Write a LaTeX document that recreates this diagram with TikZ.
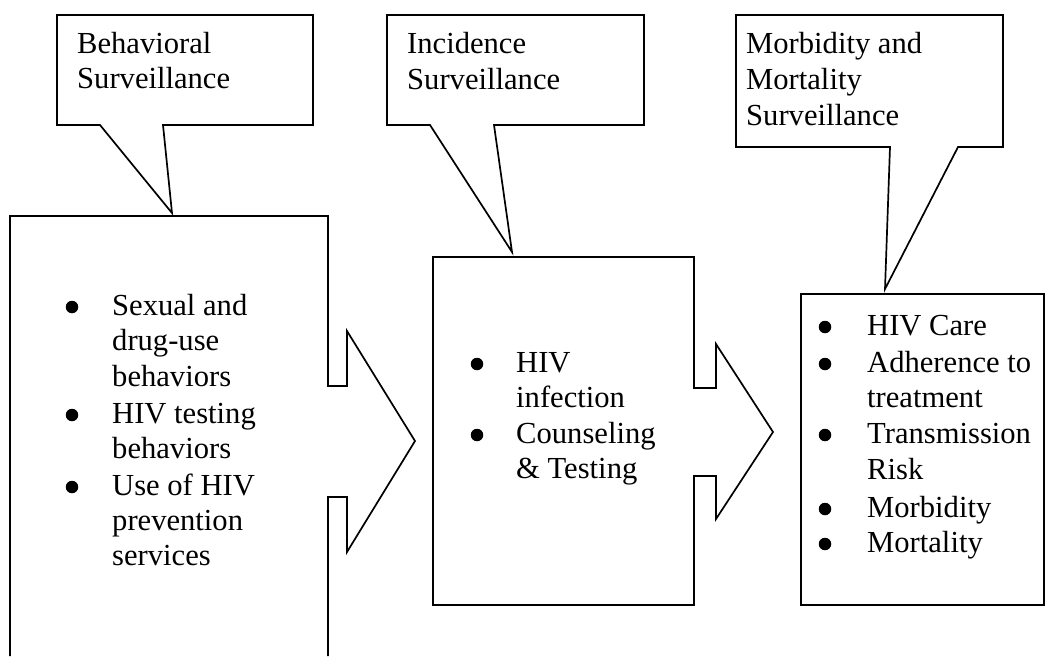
\documentclass[tikz,border=0pt]{standalone}
\usepackage{fontspec}
\setmainfont{Liberation Serif}
\begin{document}
\begin{tikzpicture}[x=1pt,y=-1pt,
  shp/.style={draw=black, line width=1.7pt, line join=miter},
  txt/.style={font=\fontsize{30.6}{35.5}\selectfont, inner sep=0pt, anchor=base west},
  bul/.style={circle, fill=black, inner sep=0pt, minimum size=12.5pt}]
\useasboundingbox (0,0) rectangle (1046,656);

% callouts
\draw[shp] (57,15) -- (313,15) -- (313,125) -- (163,125) -- (172,213) -- (100,125) -- (57,125) -- cycle;
\draw[shp] (387,15) -- (644,15) -- (644,125) -- (494,125) -- (512,252) -- (430,125) -- (387,125) -- cycle;
\draw[shp] (736,15) -- (1003,15) -- (1003,147) -- (958,147) -- (885,289) -- (890,147) -- (736,147) -- cycle;

% boxes with arrows
\draw[shp] (10,656) -- (10,216) -- (328,216) -- (328,386) -- (347,386) -- (347,331) -- (415,441) -- (347,552) -- (347,497) -- (328,497) -- (328,656);
\draw[shp] (433,257) -- (694,257) -- (694,388) -- (716,388) -- (716,344) -- (773,432) -- (716,519) -- (716,476) -- (694,476) -- (694,605) -- (433,605) -- cycle;
\draw[shp] (801,294) rectangle (1044,605);

% callout texts
\node[txt] (c1a) at (77,53) {Behavioral};
\node[txt] (c1b) at (77,88) {Surveillance};
\node[txt] (c2a) at (407,53) {Incidence};
\node[txt] (c2b) at (407,89) {Surveillance};
\node[txt] (c3a) at (746,53) {Morbidity and};
\node[txt] (c3b) at (746,89) {Mortality};
\node[txt] (c3c) at (746,125) {Surveillance};

% left list
\foreach \t/\y [count=\i] in {Sexual and/315, drug-use/350, behaviors/386, HIV testing/423, behaviors/458, Use of HIV/495, prevention/530, services/565}
  \node[txt] (l\i) at (112,\y) {\t};
\foreach \y [count=\i] in {315,423,495}
  \node[bul] (lb\i) at (72,\y-8) {};

% middle list
\foreach \t/\y [count=\i] in {HIV/372, infection/407, Counseling/443, \& Testing/478}
  \node[txt] (m\i) at (516,\y) {\t};
\foreach \y [count=\i] in {372,443}
  \node[bul] (mb\i) at (477,\y-8) {};

% right list
\foreach \t/\y [count=\i] in {HIV Care/335, Adherence to/372, treatment/407, Transmission/443, Risk/479, Morbidity/517, Mortality/552}
  \node[txt] (r\i) at (867,\y) {\t};
\foreach \y [count=\i] in {335,372,443,517,552}
  \node[bul] (rb\i) at (825,\y-8) {};
\end{tikzpicture}
\end{document}
